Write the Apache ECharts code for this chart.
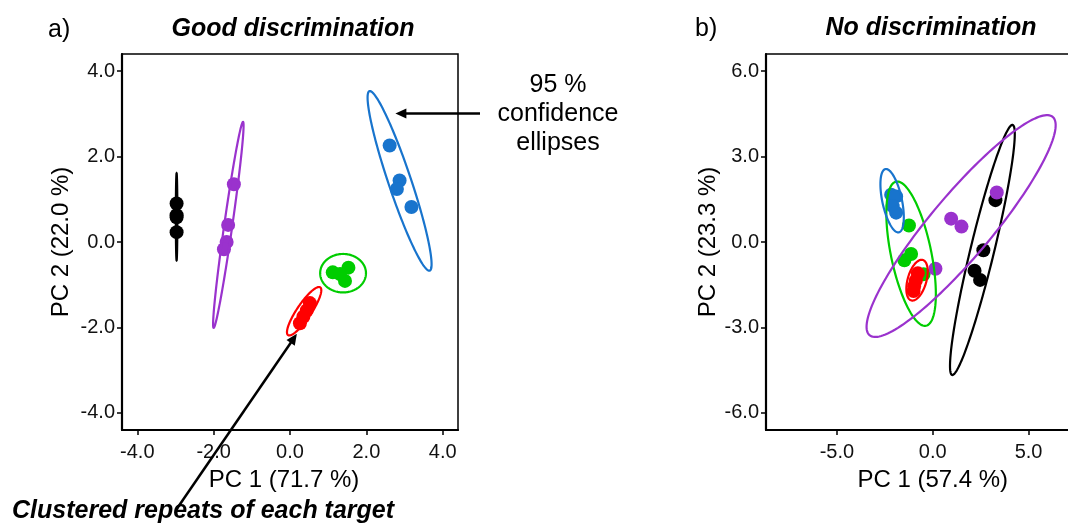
<!DOCTYPE html>
<html><head><meta charset="utf-8">
<script src="https://cdn.jsdelivr.net/npm/echarts@6/dist/echarts.min.js"></script>
<style>html,body{margin:0;padding:0;background:#fff}#c{width:1068px;height:529px}</style>
</head><body><div id="c"></div>
<script>
// ---- categories / colours ----
const targets = ['black', 'purple', 'blue', 'green', 'red'];
const targetColors = ['#000000', '#9A32CD', '#1874CD', '#00CD00', '#FF0000'];

// ---- tick labels ----
const aTicksX = [-4, -2, 0, 2, 4];
const aTicksY = [-4, -2, 0, 2, 4];
const bTicksX = [-5, 0, 5];
const bTicksY = [-6, -3, 0, 3, 6];
const aRange = { x: [-4.4, 4.4], y: [-4.4, 4.4] };
const bRange = { x: [-8.7, 8.7], y: [-6.6, 6.6] };
const aTitles = { x: 'PC 1 (71.7 %)', y: 'PC 2 (22.0 %)', main: 'Good discrimination', tag: 'a)' };
const bTitles = { x: 'PC 1 (57.4 %)', y: 'PC 2 (23.3 %)', main: 'No discrimination', tag: 'b)' };

// ---- panel a: PCA scores (PC1, PC2) ----
const aBlack  = [[-2.97, 0.90], [-2.97, 0.63], [-2.97, 0.58], [-2.97, 0.23]];
const aPurple = [[-1.47, 1.35], [-1.62, 0.40], [-1.66, 0.00], [-1.73, -0.17]];
const aBlue   = [[2.61, 2.26], [2.87, 1.44], [2.80, 1.24], [3.18, 0.82]];
const aGreen  = [[1.12, -0.71], [1.53, -0.60], [1.44, -0.91], [1.31, -0.75]];
const aRed    = [[0.26, -1.90], [0.35, -1.75], [0.44, -1.60], [0.52, -1.43]];
// 95 % ellipses: [centre x, centre y, semi-axis-1 end x, y, semi-axis-2 end x, y]
const aEllBlack  = [-2.97, 0.59, -2.97, 1.61, -2.95, 0.59];
const aEllPurple = [-1.615, 0.40, -1.23, 2.81, -1.51, 0.386];
const aEllBlue   = [2.87, 1.43, 2.08, 3.53, 3.15, 1.52];
const aEllGreen  = [1.39, -0.73, 1.99, -0.73, 1.39, -0.28];
const aEllRed    = [0.37, -1.62, 0.79, -1.06, 0.53, -1.71];

// ---- panel b: PCA scores ----
const bBlack  = [[3.27, 1.47], [2.64, -0.29], [2.18, -1.01], [2.47, -1.33]];
const bPurple = [[3.34, 1.74], [0.96, 0.82], [1.50, 0.54], [0.14, -0.94]];
const bBlue   = [[-2.17, 1.66], [-1.91, 1.60], [-2.09, 1.26], [-1.91, 1.03]];
const bGreen  = [[-1.24, 0.58], [-1.13, -0.42], [-1.48, -0.64], [-0.48, -1.13]];
const bRed    = [[-0.78, -1.10], [-0.88, -1.35], [-0.97, -1.55], [-1.00, -1.72]];
const bEllBlack  = [2.59, -0.28, 4.17, 4.11, 3.19, -0.38];
const bEllPurple = [1.48, 0.56, 6.26, 4.39, 2.70, -0.14];
const bEllBlue   = [-2.12, 1.45, -2.47, 2.56, -1.62, 1.52];
const bEllGreen  = [-1.13, -0.41, -1.91, 2.12, -0.10, -0.27];
const bEllRed    = [-0.82, -1.34, -0.52, -0.63, -0.35, -1.43];

// ---- annotations ----
const noteEllipse = '95 %\nconfidence\nellipses';
const noteEllipseTip = [2.76, 3.01];      // data point the arrow points to (panel a)
const noteCluster = 'Clustered repeats of each target';
const noteClusterTip = [0.18, -2.15];     // data point the arrow points to (panel a)

const AX_FONT = 'Liberation Sans';
const TXT_FONT = '"Liberation Sans", Arial, sans-serif';

const chart = echarts.init(document.getElementById('c'), null, { renderer: 'canvas' });

function makeAxis(gridIndex, dim, range, ticks, name, gap) {
  return {
    gridIndex, type: 'value', min: range[0], max: range[1],
    axisLine: { show: true, onZero: false, lineStyle: { color: '#000', width: 2.2 } },
    axisTick: { show: true, inside: false, length: 5, customValues: ticks, lineStyle: { color: '#000', width: 1.5 } },
    axisLabel: { show: true, customValues: ticks, formatter: v => Number(v).toFixed(1),
      fontFamily: AX_FONT, fontSize: 20, color: '#111', margin: dim === 'x' ? 12 : 7 },
    splitLine: { show: false },
    name, nameLocation: 'middle', nameGap: gap,
    nameTextStyle: { fontFamily: AX_FONT, fontSize: 24, color: '#000' }
  };
}

const aPts = [aBlack, aPurple, aBlue, aGreen, aRed];
const bPts = [bBlack, bPurple, bBlue, bGreen, bRed];
const aElls = [aEllBlack, aEllPurple, aEllBlue, aEllGreen, aEllRed];
const bElls = [bEllBlack, bEllPurple, bEllBlue, bEllGreen, bEllRed];

function ellipseRender(params, api) {
  const c = api.coord([api.value(0), api.value(1)]);
  const a = api.coord([api.value(2), api.value(3)]);
  const b = api.coord([api.value(4), api.value(5)]);
  const ux = a[0] - c[0], uy = a[1] - c[1], vx = b[0] - c[0], vy = b[1] - c[1];
  const pts = [];
  const N = 160;
  for (let k = 0; k < N; k++) {
    const t = k / N * Math.PI * 2;
    pts.push([c[0] + ux * Math.cos(t) + vx * Math.sin(t), c[1] + uy * Math.cos(t) + vy * Math.sin(t)]);
  }
  return { type: 'polygon', shape: { points: pts },
    style: { fill: 'none', stroke: targetColors[api.value(6)], lineWidth: 2.2 } };
}

function panelSeries(gi, pts, ells, order) {
  const s = [];
  order.forEach(i => {
    s.push({ type: 'scatter', name: targets[i], xAxisIndex: gi, yAxisIndex: gi, data: pts[i],
      symbol: 'circle', symbolSize: 14, itemStyle: { color: targetColors[i], opacity: 1 }, z: 2, silent: true });
  });
  s.push({ type: 'custom', xAxisIndex: gi, yAxisIndex: gi, clip: true, z: 3, silent: true,
    dimensions: ['cx', 'cy', 'ax', 'ay', 'bx', 'by', 'g'],
    encode: { x: [0, 2, 4], y: [1, 3, 5] },
    renderItem: ellipseRender,
    data: order.map(i => ells[i].concat([i])) });
  return s;
}

const option = {
  animation: false,
  backgroundColor: '#fff',
  grid: [
    { left: 122, top: 54, width: 336, height: 376, show: true, borderColor: '#000', borderWidth: 1.5, outerBoundsMode: 'none' },
    { left: 766, top: 54, width: 333.5, height: 376, show: true, borderColor: '#000', borderWidth: 1.5, outerBoundsMode: 'none' }
  ],
  xAxis: [
    makeAxis(0, 'x', aRange.x, aTicksX, aTitles.x, 38),
    makeAxis(1, 'x', bRange.x, bTicksX, bTitles.x, 38)
  ],
  yAxis: [
    makeAxis(0, 'y', aRange.y, aTicksY, aTitles.y, 49),
    makeAxis(1, 'y', bRange.y, bTicksY, bTitles.y, 46)
  ],
  series: [].concat(
    panelSeries(0, aPts, aElls, [0, 1, 2, 3, 4]),
    panelSeries(1, bPts, bElls, [3, 2, 0, 1, 4])
  )
};
option.xAxis[0].nameTextStyle.padding = [0, 12, 0, 0];
chart.setOption(option);

function arrow(tail, tip, id) {
  const dx = tip[0] - tail[0], dy = tip[1] - tail[1];
  const L = Math.hypot(dx, dy), ux = dx / L, uy = dy / L, px = -uy, py = ux;
  const hl = 11, hw = 5;
  const base = [tip[0] - ux * hl, tip[1] - uy * hl];
  return [
    { type: 'line', id: id + 'l', z: 100, shape: { x1: tail[0], y1: tail[1], x2: base[0] + ux * 2, y2: base[1] + uy * 2 },
      style: { stroke: '#000', lineWidth: 2.5 } },
    { type: 'polygon', id: id + 'h', z: 100, shape: { points: [tip, [base[0] + px * hw, base[1] + py * hw], [base[0] - px * hw, base[1] - py * hw]] },
      style: { fill: '#000' } }
  ];
}

const tip1 = chart.convertToPixel({ gridIndex: 0 }, noteEllipseTip);
const tip2 = chart.convertToPixel({ gridIndex: 0 }, noteClusterTip);

const g = [];
g.push({ type: 'text', x: 48, y: 30, style: { text: aTitles.tag, font: '25px ' + TXT_FONT, fill: '#000', verticalAlign: 'middle', align: 'left' } });
g.push({ type: 'text', x: 293, y: 29, style: { text: aTitles.main, font: 'italic bold 25px ' + TXT_FONT, fill: '#000', verticalAlign: 'middle', align: 'center' } });
g.push({ type: 'text', x: 695, y: 29.5, style: { text: bTitles.tag, font: '25px ' + TXT_FONT, fill: '#000', verticalAlign: 'middle', align: 'left' } });
g.push({ type: 'text', x: 931, y: 28.5, style: { text: bTitles.main, font: 'italic bold 25px ' + TXT_FONT, fill: '#000', verticalAlign: 'middle', align: 'center' } });
g.push({ type: 'text', x: 558, y: 114, z: 100, style: { text: noteEllipse, font: '25px ' + TXT_FONT, lineHeight: 29, fill: '#000', verticalAlign: 'middle', align: 'center' } });
g.push({ type: 'text', x: 12, y: 511, z: 100, style: { text: noteCluster, font: 'italic bold 25px ' + TXT_FONT, fill: '#000', verticalAlign: 'middle', align: 'left' } });
arrow([480, tip1[1]], tip1, 'a1').forEach(e => g.push(e));
arrow([176, 510], tip2, 'a2').forEach(e => g.push(e));
chart.setOption({ graphic: g });
</script>
</body></html>
